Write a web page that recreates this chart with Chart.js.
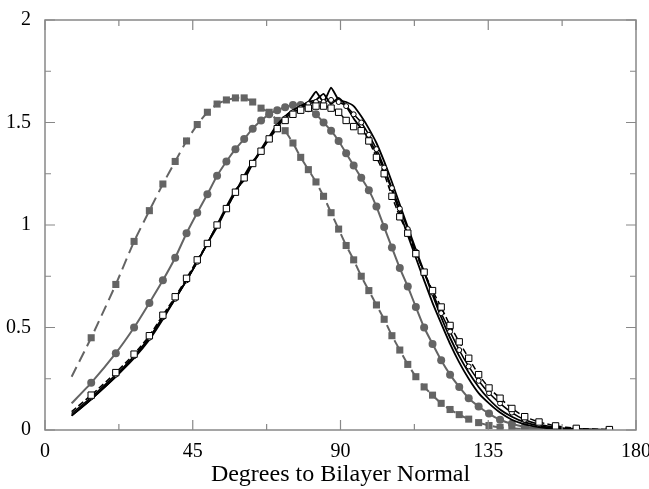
<!DOCTYPE html>
<html>
<head>
<meta charset="utf-8">
<script src="https://cdn.jsdelivr.net/npm/chart.js@4.4.1/dist/chart.umd.min.js"></script>
<style>
  html, body { margin: 0; padding: 0; background: #fff; }
  #wrap { width: 649px; height: 489px; }
</style>
</head>
<body>
<div id="wrap"><canvas id="Chart" width="649" height="489"></canvas></div>
<script>
// bin centres (degrees), first bin has no marker
const angles = [8.11, 14.07, 21.57, 27.13, 31.79, 35.90, 39.65, 43.11, 46.37, 49.46, 52.41,
  55.25, 58.00, 60.66, 63.26, 65.80, 68.28, 70.73, 73.14, 75.52, 77.88,
  80.21, 82.53, 84.84, 87.13, 89.43, 91.72, 94.01, 96.32, 98.63, 100.95,
  103.30, 105.66, 108.06, 110.49, 112.95, 115.47, 118.03, 120.66, 123.37, 126.16,
  129.05, 132.07, 135.23, 138.59, 142.19, 146.10, 150.46, 155.50, 161.81, 171.89];

const xTicks = [0, 45, 90, 135, 180];
const yTicks = [0, 0.5, 1, 1.5, 2];

// grey dashed, filled squares
const greySquares = [0.26, 0.45, 0.71, 0.92, 1.07, 1.20, 1.31, 1.41, 1.49, 1.55, 1.59,
  1.61, 1.62, 1.62, 1.60, 1.57, 1.55, 1.51, 1.46, 1.40, 1.33,
  1.27, 1.21, 1.14, 1.06, 0.98, 0.90, 0.83, 0.75, 0.68, 0.61,
  0.54, 0.46, 0.39, 0.32, 0.26, 0.21, 0.17, 0.13, 0.10, 0.075,
  0.053, 0.036, 0.022, 0.013, 0.008, 0.005, 0.003, 0.002, 0.001, 0];

// grey solid, filled circles
const greyCircles = [0.13, 0.23, 0.375, 0.50, 0.62, 0.73, 0.84, 0.96, 1.06, 1.15, 1.24,
  1.31, 1.37, 1.42, 1.47, 1.51, 1.54, 1.56, 1.575, 1.585, 1.585,
  1.57, 1.54, 1.50, 1.46, 1.41, 1.35, 1.29, 1.23, 1.17, 1.09,
  0.99, 0.89, 0.79, 0.70, 0.60, 0.50, 0.42, 0.34, 0.27, 0.21,
  0.155, 0.115, 0.08, 0.05, 0.03, 0.016, 0.008, 0.004, 0.002, 0];

// black dashed, open squares
const blackSquares = [0.09, 0.17, 0.28, 0.37, 0.46, 0.56, 0.65, 0.74, 0.83, 0.91, 1.00,
  1.08, 1.16, 1.23, 1.30, 1.36, 1.42, 1.47, 1.51, 1.54, 1.56,
  1.57, 1.58, 1.58, 1.57, 1.55, 1.51, 1.48, 1.46, 1.41, 1.33,
  1.25, 1.14, 1.04, 0.96, 0.86, 0.77, 0.68, 0.60, 0.51, 0.43,
  0.35, 0.27, 0.205, 0.155, 0.105, 0.065, 0.039, 0.02, 0.008, 0.002];

// black solid, open circles
const blackCircles = [0.08, 0.16, 0.27, 0.36, 0.45, 0.55, 0.64, 0.73, 0.82, 0.91, 1.00,
  1.08, 1.16, 1.23, 1.30, 1.36, 1.42, 1.48, 1.52, 1.55, 1.57,
  1.59, 1.60, 1.60, 1.61, 1.60, 1.58, 1.54, 1.50, 1.44, 1.37,
  1.28, 1.18, 1.08, 0.98, 0.87, 0.77, 0.67, 0.57, 0.48, 0.39,
  0.31, 0.24, 0.18, 0.13, 0.085, 0.05, 0.028, 0.013, 0.005, 0.001];

// black solid, no markers
const blackLine1 = [0.07, 0.15, 0.26, 0.36, 0.45, 0.55, 0.64, 0.73, 0.82, 0.91, 0.99,
  1.08, 1.16, 1.24, 1.31, 1.36, 1.43, 1.49, 1.53, 1.56, 1.58,
  1.60, 1.65, 1.60, 1.67, 1.61, 1.60, 1.58, 1.53, 1.47, 1.40,
  1.31, 1.21, 1.10, 0.99, 0.88, 0.77, 0.66, 0.55, 0.45, 0.36,
  0.28, 0.21, 0.15, 0.10, 0.065, 0.038, 0.02, 0.009, 0.003, 0];

const blackLine2 = [0.07, 0.15, 0.26, 0.35, 0.44, 0.54, 0.64, 0.73, 0.82, 0.91, 1.00,
  1.09, 1.17, 1.22, 1.30, 1.37, 1.43, 1.48, 1.53, 1.56, 1.58,
  1.60, 1.61, 1.64, 1.59, 1.62, 1.58, 1.52, 1.47, 1.42, 1.35,
  1.27, 1.17, 1.06, 0.95, 0.84, 0.73, 0.62, 0.52, 0.42, 0.33,
  0.25, 0.18, 0.13, 0.085, 0.05, 0.028, 0.014, 0.006, 0.002, 0];

const grey = 'rgb(100,100,100)';
const toPoints = (vals) => vals.map((v, i) => ({ x: angles[i], y: v }));
const markerSizes = (r) => angles.map((a, i) => (i === 0 ? 0 : r));

const frameTicks = {
  id: 'frameTicks',
  afterDraw(chart) {
    const { ctx, chartArea: a, scales } = chart;
    const xs = scales.x, ys = scales.y;
    ctx.save();
    ctx.strokeStyle = '#888';
    ctx.lineWidth = 1.5;
    ctx.strokeRect(a.left, a.top, a.right - a.left, a.bottom - a.top);
    ctx.lineWidth = 1.2;
    ctx.beginPath();
    for (let v = 0; v <= 180; v += 22.5) {
      const px = xs.getPixelForValue(v);
      const len = (v % 45 === 0) ? 10 : 6;
      ctx.moveTo(px, a.bottom); ctx.lineTo(px, a.bottom - len);
      ctx.moveTo(px, a.top); ctx.lineTo(px, a.top + len);
    }
    for (let v = 0; v <= 2; v += 0.25) {
      const py = ys.getPixelForValue(v);
      const len = (Math.round(v * 4) % 2 === 0) ? 10 : 6;
      ctx.moveTo(a.left, py); ctx.lineTo(a.left + len, py);
      ctx.moveTo(a.right, py); ctx.lineTo(a.right - len, py);
    }
    ctx.stroke();
    ctx.restore();
  }
};

const ctx = document.getElementById('Chart');
new Chart(ctx, {
  type: 'line',
  data: {
    datasets: [
      {
        data: toPoints(blackSquares),
        borderColor: '#000', borderWidth: 1.5, borderDash: [6, 3],
        pointStyle: 'rect', pointRadius: markerSizes(4.5),
        pointBackgroundColor: '#fff', pointBorderColor: '#000', pointBorderWidth: 1
      },
      {
        data: toPoints(blackCircles),
        borderColor: '#000', borderWidth: 1.5,
        pointStyle: 'circle', pointRadius: markerSizes(2.5),
        pointBackgroundColor: '#fff', pointBorderColor: '#000', pointBorderWidth: 1
      },
      {
        data: toPoints(blackLine1),
        borderColor: '#000', borderWidth: 1.8, pointRadius: 0
      },
      {
        data: toPoints(blackLine2),
        borderColor: '#000', borderWidth: 1.8, pointRadius: 0
      },
      {
        data: toPoints(greyCircles),
        borderColor: grey, borderWidth: 2,
        pointStyle: 'circle', pointRadius: markerSizes(4),
        pointBackgroundColor: grey, pointBorderColor: grey, pointBorderWidth: 0
      },
      {
        data: toPoints(greySquares),
        borderColor: grey, borderWidth: 2, borderDash: [11, 6],
        pointStyle: 'rect', pointRadius: markerSizes(5),
        pointBackgroundColor: grey, pointBorderColor: grey, pointBorderWidth: 0
      }
    ]
  },
  options: {
    responsive: false,
    animation: false,
    layout: { padding: { top: 20, right: 13, left: 0, bottom: 0 } },
    plugins: { legend: { display: false }, tooltip: { enabled: false } },
    elements: { line: { tension: 0.15 } },
    scales: {
      x: {
        type: 'linear', min: 0, max: 180,
        afterFit: (s) => { s.height = 59; s.paddingLeft = 0; s.paddingRight = 0; },
        afterBuildTicks: (s) => { s.ticks = xTicks.map(v => ({ value: v })); },
        grid: { display: false },
        border: { display: false },
        ticks: { color: '#000', padding: 2, font: { family: 'Liberation Serif', size: 20 } },
        title: {
          display: true, text: 'Degrees to Bilayer Normal', color: '#000',
          padding: { top: 3, bottom: 0 },
          font: { family: 'Liberation Serif', size: 24 }
        }
      },
      y: {
        type: 'linear', min: 0, max: 2,
        afterFit: (s) => { s.width = 45; s.paddingTop = 0; s.paddingBottom = 0; },
        afterBuildTicks: (s) => { s.ticks = yTicks.map(v => ({ value: v })); },
        grid: { display: false },
        border: { display: false },
        ticks: {
          color: '#000', padding: 6, font: { family: 'Liberation Serif', size: 20 },
          callback: (v) => String(v)
        }
      }
    }
  },
  plugins: [frameTicks]
});
</script>
</body>
</html>
